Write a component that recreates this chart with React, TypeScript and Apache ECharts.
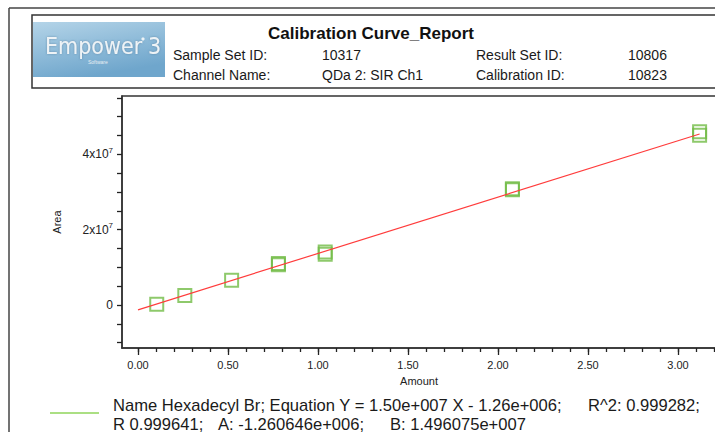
import React, { useEffect, useRef } from "react";
import * as echarts from "echarts";

const amounts = [0.104, 0.26, 0.52, 0.78, 0.78, 1.04, 1.04, 2.08, 2.08, 3.12, 3.12];
const areas = [2.0e5, 2.53e6, 6.6e6, 1.07e7, 1.1e7, 1.41e7, 1.35e7, 3.06e7, 3.09e7, 4.6e7, 4.51e7];
const fitX = [0, 3.12];
const fitY = [-1.26e6, 4.542e7];
const xLabelValues = [0, 0.5, 1.0, 1.5, 2.0, 2.5, 3.0];
const xMinorValues = [0, 0.1, 0.2, 0.3, 0.4, 0.5, 0.6, 0.7, 0.8, 0.9, 1.0, 1.1, 1.2, 1.3, 1.4, 1.5, 1.6, 1.7, 1.8, 1.9, 2.0, 2.1, 2.2, 2.3, 2.4, 2.5, 2.6, 2.7, 2.8, 2.9, 3.0, 3.1, 3.2];
const yLabelValues = [0, 2e7, 4e7];
const yTickValues = [-1e7, -5e6, 0, 5e6, 1e7, 1.5e7, 2e7, 2.5e7, 3e7, 3.5e7, 4e7, 4.5e7, 5e7, 5.5e7];

const headerRows = [
  ["Sample Set ID:", "10317", "Result Set ID:", "10806"],
  ["Channel Name:", "QDa 2: SIR Ch1", "Calibration ID:", "10823"],
];
const legendLine1 = ["Name Hexadecyl Br; Equation Y = 1.50e+007 X - 1.26e+006;", "R^2: 0.999282;"];
const legendLine2 = ["R 0.999641;", "A: -1.260646e+006;", "B: 1.496075e+007"];

const FONT = "'Liberation Sans', Arial, sans-serif";

export default function App() {
  const ref = useRef<HTMLDivElement>(null);
  useEffect(() => {
    const chart = echarts.init(ref.current!, null, { renderer: "svg" });
    const txt = (x: number, y: number, text: string, size: number, extra: any = {}) => ({
      type: "text",
      x,
      y,
      style: {
        text,
        fontSize: size,
        fontFamily: FONT,
        fill: "#1a1a1a",
        verticalAlign: "middle",
        align: "left",
        ...extra,
      },
    });
    const colX = [173, 322, 476, 628];
    const rowY = [55, 75];
    const header: any[] = [];
    headerRows.forEach((row, r) =>
      row.forEach((t, c) => header.push(txt(colX[c], rowY[r], t, 14)))
    );
    const logoFont = "'Liberation Sans Narrow', 'DejaVu Sans Condensed', sans-serif";
    const SX = 1.037;
    const lg = { fontSize: 16, fontFamily: FONT, color: "#1a1a1a", lineHeight: 18.7 };
    const legendText =
      `{a|${legendLine1[0]}}{t|${legendLine1[1]}}\n` +
      `{c|${legendLine2[0]}}{d|${legendLine2[1]}}{t|${legendLine2[2]}}`;
    chart.setOption({
      animation: false,
      backgroundColor: "#ffffff",
      grid: {
        left: 122,
        top: 96,
        width: 610,
        height: 252,
        show: true,
        borderColor: "#333",
        borderWidth: 1.5,
        backgroundColor: "transparent",
      },
      xAxis: [
        {
          type: "value",
          min: -0.089,
          max: 3.3,
          position: "bottom",
          splitLine: { show: false },
          axisLine: { show: true, onZero: false, lineStyle: { color: "#333", width: 1.5 } },
          axisTick: {
            show: true,
            customValues: xLabelValues,
            length: 7,
            lineStyle: { color: "#222", width: 1.3 },
          },
          axisLabel: {
            customValues: xLabelValues,
            formatter: (v: number) => v.toFixed(2),
            fontSize: 11,
            fontFamily: FONT,
            color: "#222",
            margin: 11,
          },
        },
        {
          type: "value",
          min: -0.089,
          max: 3.3,
          position: "bottom",
          splitLine: { show: false },
          axisLine: { show: false, onZero: false },
          axisTick: {
            show: true,
            customValues: xMinorValues,
            length: 4,
            lineStyle: { color: "#222", width: 1.3 },
          },
          axisLabel: { show: false },
        },
      ],
      yAxis: {
        type: "value",
        min: -1.14e7,
        max: 5.55e7,
        splitLine: { show: false },
        axisLine: { show: true, onZero: false, lineStyle: { color: "#333", width: 1.5 } },
        axisTick: {
          show: true,
          customValues: yTickValues,
          length: 5,
          lineStyle: { color: "#222", width: 1.3 },
        },
        axisLabel: {
          customValues: yLabelValues,
          margin: 9,
          formatter: (v: number) => (v === 0 ? "{n|0}" : `{n|${v / 1e7}x10}{s|7}`),
          rich: {
            n: { fontSize: 12, fontFamily: FONT, color: "#222", lineHeight: 16 },
            s: { fontSize: 8, fontFamily: FONT, color: "#222", verticalAlign: "top", lineHeight: 8 },
          },
        },
      },
      series: [
        {
          type: "line",
          xAxisIndex: 0,
          data: fitX.map((x, i) => [x, fitY[i]]),
          symbol: "none",
          lineStyle: { color: "#ff3c3c", width: 1.2 },
          z: 3,
        },
        {
          type: "scatter",
          xAxisIndex: 0,
          data: amounts.map((x, i) => [x, areas[i]]),
          symbol: "rect",
          symbolSize: 13,
          itemStyle: { color: "rgba(255,255,255,0)", borderColor: "#72bc46", borderWidth: 2 },
          z: 2,
        },
      ],
      graphic: [
        { type: "line", shape: { x1: 9, y1: 8, x2: 800, y2: 8 }, style: { stroke: "#444", lineWidth: 1.5 } },
        { type: "line", shape: { x1: 9, y1: 8, x2: 9, y2: 440 }, style: { stroke: "#444", lineWidth: 1.5 } },
        {
          type: "rect",
          shape: { x: 32, y: 15, width: 800, height: 73 },
          style: { fill: "none", stroke: "#333", lineWidth: 1.5 },
        },
        {
          type: "rect",
          shape: { x: 33, y: 22, width: 132, height: 55 },
          style: {
            fill: new echarts.graphic.LinearGradient(0, 0, 0.4, 1, [
              { offset: 0, color: "#b4d4e8" },
              { offset: 1, color: "#6fa6cc" },
            ]),
          },
        },
        txt(45, 46, "Empower", 23, {
          fill: "#eef3f6",
          fontFamily: logoFont,
          textShadowColor: "rgba(60,100,130,0.5)",
          textShadowBlur: 2,
        }),
        { type: "circle", shape: { cx: 143, cy: 39, r: 1.6 }, style: { fill: "#eef3f6" } },
        txt(148, 46, "3", 23, {
          fill: "#eef3f6",
          fontFamily: logoFont,
          textShadowColor: "rgba(60,100,130,0.5)",
          textShadowBlur: 2,
        }),
        txt(88, 62, "Software", 5, { fill: "#e8eef2" }),
        txt(268, 33, "Calibration Curve_Report", 17, { fontWeight: "bold", fill: "#111" }),
        ...header,
        txt(419, 381, "Amount", 11, { align: "center", fill: "#222" }),
        {
          type: "text",
          x: 57,
          y: 222,
          rotation: Math.PI / 2,
          style: {
            text: "Area",
            fontSize: 11,
            fontFamily: FONT,
            fill: "#222",
            align: "center",
            verticalAlign: "middle",
          },
        },
        { type: "line", shape: { x1: 50, y1: 413, x2: 99, y2: 413 }, style: { stroke: "#8fd45a", lineWidth: 1.5 } },
        {
          type: "text",
          x: 113,
          y: 414.3,
          scaleX: SX,
          style: {
            text: legendText,
            align: "left",
            verticalAlign: "middle",
            ...lg,
            fill: "#1a1a1a",
            rich: {
              a: { ...lg, width: 475 / SX },
              c: { ...lg, width: 105 / SX },
              d: { ...lg, width: 172 / SX },
              t: { ...lg },
            },
          },
        },
      ],
    });
    return () => chart.dispose();
  }, []);
  return (
    <div
      style={{
        position: "fixed",
        left: 0,
        top: 0,
        width: 715,
        height: 432,
        overflow: "hidden",
        background: "#fff",
      }}
    >
      <div ref={ref} style={{ width: 780, height: 432 }} />
    </div>
  );
}
